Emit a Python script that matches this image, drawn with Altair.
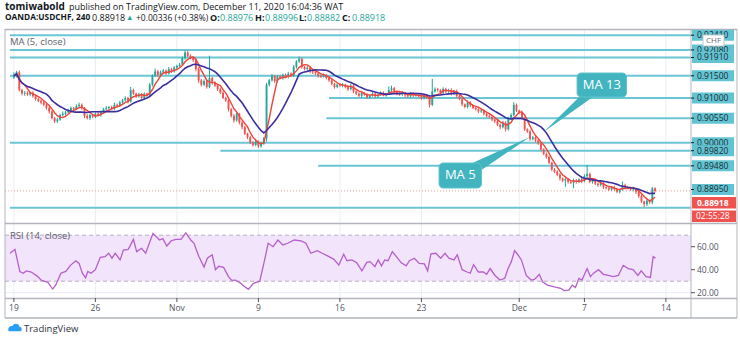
import altair as alt
import pandas as pd

# ---------------- values ----------------
first_open = 9146
close_pips = [
    9150, 9158, 9118, 9110, 9112, 9108, 9112, 9104, 9098, 9094,
    9090, 9085, 9078, 9070, 9055, 9048, 9052, 9062, 9065, 9068,
    9072, 9078, 9075, 9082, 9085, 9078, 9060, 9055, 9062, 9058,
    9065, 9062, 9070, 9075, 9078, 9080, 9076, 9085, 9082, 9090,
    9095, 9100, 9092, 9118, 9110, 9104, 9108, 9100, 9110, 9106,
    9130, 9150, 9160, 9152, 9158, 9162, 9155, 9165, 9160, 9168,
    9172, 9175, 9190, 9202, 9195, 9190, 9185, 9165, 9140, 9130,
    9138, 9125, 9145, 9135, 9128, 9120, 9112, 9100, 9095, 9075,
    9060, 9050, 9065, 9045, 9035, 9020, 9012, 9000, 8995, 9002,
    8992, 8998, 9010, 9130, 9140, 9150, 9138, 9148, 9145, 9152,
    9148, 9155, 9150, 9170, 9182, 9188, 9170, 9165, 9168, 9160,
    9158, 9155, 9150, 9148, 9152, 9145, 9140, 9132, 9125, 9130,
    9128, 9130, 9125, 9120, 9128, 9115, 9110, 9105, 9112, 9108,
    9102, 9106, 9110, 9104, 9108, 9112, 9106, 9110, 9118, 9122,
    9115, 9110, 9108, 9112, 9106, 9104, 9110, 9106, 9108, 9104,
    9100, 9106, 9102, 9085, 9115, 9120, 9118, 9112, 9120, 9115,
    9118, 9110, 9116, 9105, 9098, 9086, 9080, 9090, 9084, 9078,
    9075, 9070, 9072, 9065, 9060, 9058, 9052, 9048, 9040, 9035,
    9045, 9030, 9055, 9062, 9085, 9072, 9068, 9055, 9030, 9025,
    9008, 9012, 9005, 8998, 8985, 8975, 8968, 8955, 8940, 8935,
    8928, 8920, 8915, 8918, 8912, 8910, 8915, 8912, 8918, 8914,
    8925, 8930, 8912, 8915, 8908, 8905, 8910, 8900, 8898, 8895,
    8900, 8896, 8890, 8895, 8905, 8900, 8898, 8895, 8897, 8890,
    8880, 8868, 8862, 8870, 8866, 8897.6, 8891.8,
]
hi_ext = [
    8, 3, 4, 3, 4, 3, 2, 4, 3, 3,
    3, 4, 2, 3, 2, 3, 4, 3, 5, 3,
    4, 3, 2, 4, 5, 3, 2, 4, 3, 2,
    3, 4, 2, 3, 4, 2, 3, 5, 3, 4,
    3, 4, 3, 7, 3, 2, 4, 3, 3, 2,
    4, 3, 6, 3, 4, 3, 2, 5, 3, 4,
    3, 4, 3, 5, 4, 3, 2, 3, 4, 3,
    4, 3, 50, 4, 3, 2, 3, 4, 3, 2,
    3, 4, 3, 2, 4, 3, 2, 3, 4, 5,
    3, 4, 3, 4, 3, 4, 2, 3, 4, 3,
    3, 4, 3, 4, 3, 5, 3, 2, 4, 3,
    3, 2, 4, 3, 3, 2, 4, 3, 2, 3,
    3, 4, 2, 3, 4, 3, 2, 3, 4, 2,
    3, 2, 3, 4, 2, 3, 3, 2, 8, 6,
    3, 2, 4, 3, 2, 3, 3, 2, 4, 3,
    3, 2, 3, 4, 28, 4, 3, 2, 4, 3,
    3, 4, 2, 3, 4, 3, 2, 5, 3, 2,
    3, 2, 4, 3, 2, 3, 4, 2, 3, 3,
    4, 3, 3, 4, 6, 3, 2, 4, 3, 2,
    4, 3, 2, 3, 3, 2, 3, 4, 2, 3,
    3, 4, 2, 3, 3, 2, 4, 3, 2, 3,
    4, 20, 3, 4, 2, 3, 4, 3, 2, 3,
    3, 4, 3, 2, 8, 3, 2, 3, 4, 2,
    3, 4, 2, 3, 2, 3, 2,
]
lo_ext = [
    3, 4, 3, 4, 5, 3, 4, 3, 4, 3,
    4, 3, 4, 5, 3, 4, 4, 3, 3, 4,
    3, 4, 3, 2, 3, 4, 5, 3, 4, 3,
    3, 2, 4, 3, 3, 4, 2, 3, 3, 2,
    4, 3, 4, 2, 3, 4, 3, 2, 3, 3,
    3, 4, 3, 5, 3, 4, 3, 2, 4, 3,
    3, 2, 3, 4, 3, 3, 4, 5, 6, 4,
    3, 4, 3, 5, 3, 4, 3, 2, 4, 5,
    4, 5, 3, 4, 5, 3, 4, 3, 4, 3,
    4, 3, 3, 8, 4, 3, 4, 3, 3, 4,
    3, 4, 3, 3, 4, 3, 4, 3, 3, 4,
    4, 3, 4, 3, 2, 3, 4, 3, 4, 3,
    3, 4, 3, 4, 3, 4, 3, 3, 4, 3,
    4, 3, 3, 4, 3, 3, 2, 3, 3, 4,
    3, 4, 3, 3, 4, 3, 3, 4, 3, 3,
    4, 3, 4, 6, 3, 3, 4, 3, 3, 4,
    3, 4, 3, 4, 3, 4, 3, 3, 4, 3,
    3, 4, 3, 4, 3, 3, 4, 4, 3, 5,
    3, 5, 3, 4, 3, 3, 4, 3, 4, 3,
    4, 3, 4, 3, 4, 3, 4, 3, 4, 3,
    3, 5, 4, 14, 4, 3, 12, 4, 3, 5,
    3, 4, 3, 4, 3, 4, 3, 4, 3, 3,
    3, 4, 3, 4, 3, 4, 3, 3, 4, 5,
    4, 3, 6, 4, 3, 4, 3.6,
]

rsi_bar = [
    -1.4, 0.4, 2.2, 3.4, 4.6, 6.4, 8.8, 10.0, 12.5, 14.3, 15.5, 17.3, 19.1, 20.9,
    22.8, 24.0, 25.2, 26.4, 27.2, 28.4, 30.0, 31.8, 33.6, 34.9, 36.1, 37.3, 39.1,
    40.3, 42.1, 44.0, 45.2, 47.0, 48.5, 51.2, 53.6, 54.8, 56.3, 57.9, 59.7, 61.5,
    63.3, 65.1, 66.3, 68.1, 70.0, 71.2, 73.0, 74.2, 75.4, 77.2, 79.0, 80.2, 81.5,
    83.3, 84.5, 86.3, 88.1, 90.5, 92.3, 93.6, 95.4, 97.2, 99.0, 100.8, 103.2,
    105.7, 107.5, 109.3, 111.7, 113.5, 116.0, 117.8, 119.6, 121.4, 122.6, 124.4,
    126.2, 128.1, 129.9, 131.1, 132.9, 134.1, 135.3, 136.5, 137.7, 139.3, 140.8,
    142.6, 144.4, 145.6, 147.4, 149.2, 151.1, 152.3, 153.5, 155.3, 157.1, 158.7,
    160.1, 162.0, 163.2, 165.0, 166.8, 168.0, 169.2, 171.0, 172.8, 174.0, 175.3,
    177.1, 178.9, 180.7, 181.9, 183.1, 184.3, 185.5, 186.8, 188.6, 190.4, 191.6,
    193.4, 194.6, 196.4, 198.9, 201.3, 202.5, 204.3, 205.5, 206.7, 208.0, 209.1,
    211.0, 212.2, 213.4, 215.2, 217.0, 218.8, 220.6, 222.5, 224.3, 226.1, 227.9,
    229.7, 230.9, 232.7, 234.3, 235.3, 236.2,
]
rsi_val = [
    54.3, 57.7, 38.3, 36.9, 38.9, 38.0, 34.0, 31.0, 29.0, 23.2, 27.0, 37.0, 38.5, 44.0,
    47.8, 45.5, 37.0, 33.0, 38.5, 36.9, 40.0, 50.8, 51.4, 54.3, 50.0, 54.3, 48.5,
    57.0, 57.7, 66.4, 55.7, 58.6, 54.3, 71.6, 65.8, 67.0, 60.6, 65.2, 66.4, 66.4,
    72.0, 65.8, 63.0, 51.4, 42.3, 50.0, 53.0, 40.0, 43.0, 42.0, 34.0, 30.7, 31.0,
    28.6, 26.0, 22.9, 28.0, 30.0, 48.5, 63.0, 60.0, 65.8, 61.5, 63.0, 65.8,
    65.0, 63.0, 54.3, 56.6, 54.3, 51.4, 49.0, 44.0, 53.4, 47.8, 48.5,
    46.0, 39.0, 46.4, 47.0, 42.7, 48.5, 43.3, 48.5, 47.8, 55.7, 51.4,
    46.0, 43.3, 47.8, 50.0, 45.5, 45.0, 39.0, 53.8, 54.3, 50.0, 54.3,
    50.0, 48.5, 53.0, 40.0, 38.0, 37.0, 44.4, 38.0, 38.0, 36.0, 41.0,
    35.0, 31.0, 32.5, 41.0, 47.0, 56.6, 53.0, 48.5, 35.0, 31.0, 31.5,
    36.0, 29.5, 26.6, 25.0, 23.8, 21.8, 22.3, 26.6, 24.6, 32.5, 31.0,
    41.0, 34.0, 37.0, 40.0, 36.0, 35.0, 34.0, 35.0, 43.8, 41.0, 40.0,
    35.0, 39.0, 34.0, 33.3, 51.4, 50.0,
]

level_price = [0.92410, 0.92080, 0.91910, 0.91500, 0.91000, 0.90550, 0.90000, 0.89820, 0.89480, 0.88540]
level_from = [-1.45, -1.45, -1.45, -1.45, 116.0, 115.0, -1.45, 76.0, 112.0, -1.45]
label_price = [0.92410, 0.92080, 0.91910, 0.91500, 0.91000, 0.90550, 0.90000, 0.89820, 0.89480, 0.88950]
label_text = ["0.92410", "0.92080", "0.91910", "0.91500", "0.91000", "0.90550", "0.90000", "0.89820", "0.89480", "0.88950"]
last_price = 0.88918
last_label = "0.88918"
countdown = "02:55:28"

xtick_bar = [0, 30, 60, 90, 120, 150, 186, 210, 240]
xtick_label = ["19", "26", "Nov", "9", "16", "23", "Dec", "7", "14"]
rsi_ticks = [60, 40, 20]
rsi_ticklabels = ["60.00", "40.00", "20.00"]
rsi_band = [30, 70]

# ---------------- styling ----------------
FONT = "Open Sans"
TXT = "#131722"
AX = "#50535e"
GREEN = "#26a69a"
RED = "#ef5350"
MA5C = "#f0433a"
MA13C = "#3b2e9e"
CYAN = "#6ac6d3"
CYANBOX = "#62c4d2"
CALL = "#41b4bf"
RSIC = "#b55fca"
FRAME = "#b2b5be"
GRID = "#e8edf4"

XS = alt.Scale(domain=[-3.268, 265.43], nice=False, zero=False)
PS = alt.Scale(domain=[0.854848, 0.931995], nice=False, zero=False)
RS = alt.Scale(domain=[-24.6, 274.5], nice=False, zero=False)
HALF = 5.5 / 4459.0  # half label-box height in price units


def X(f):
    return alt.X(f, type="quantitative", scale=XS, axis=None)


def YP(f):
    return alt.Y(f, type="quantitative", scale=PS, axis=None)


def YR(f):
    return alt.Y(f, type="quantitative", scale=RS, axis=None)


ONE = pd.DataFrame({"z": [0]})


def T(s, x, y, size=9.5, color=TXT, weight="normal", align="left"):
    return alt.Chart(pd.DataFrame({"t": [s]})).mark_text(
        align=align, baseline="middle", fontSize=size, color=color,
        fontWeight=weight, font=FONT).encode(
        x=alt.value(x), y=alt.value(y), text="t:N")


def R(x1, x2, y1, y2, color, width=1.0):
    return alt.Chart(ONE).mark_rule(color=color, strokeWidth=width).encode(
        x=alt.value(x1), x2=alt.value(x2), y=alt.value(y1), y2=alt.value(y2))


def BOX(x1, x2, y1, y2, color, radius=0, stroke=None):
    kw = dict(color=color, cornerRadius=radius)
    if stroke:
        kw["stroke"] = stroke
        kw["strokeWidth"] = 1
    return alt.Chart(ONE).mark_rect(**kw).encode(
        x=alt.value(x1), x2=alt.value(x2), y=alt.value(y1), y2=alt.value(y2))


# ---------------- tables ----------------
rows = []
prev = first_open
for k, c in enumerate(close_pips):
    o = prev
    rows.append(dict(i=k, o=o / 1e4, c=c / 1e4,
                     h=(max(o, c) + hi_ext[k]) / 1e4,
                     l=(min(o, c) - lo_ext[k]) / 1e4,
                     d="up" if c >= o else "down"))
    prev = c
candles = pd.DataFrame(rows)
rsi = pd.DataFrame({"b": rsi_bar, "v": rsi_val})
levels = pd.DataFrame({"p": level_price, "f": level_from})
xt = pd.DataFrame({"b": xtick_bar, "t": xtick_label})
rt = pd.DataFrame({"v": rsi_ticks, "t": rsi_ticklabels})
band = pd.DataFrame({"lo": [rsi_band[0]], "hi": [rsi_band[1]]})
bandlines = pd.DataFrame({"v": rsi_band})

col = alt.Color("d:N", scale=alt.Scale(domain=["up", "down"], range=[GREEN, RED]), legend=None)

layers = []
# week grid
layers.append(alt.Chart(xt).mark_rule(color=GRID, strokeWidth=1).encode(
    x=X("b"), y=alt.value(30), y2=alt.value(298)))
# RSI grid + band
layers.append(alt.Chart(rt).mark_rule(color=GRID).encode(
    y=YR("v"), x=alt.value(5), x2=alt.value(691)))
layers.append(alt.Chart(band).mark_rect(color="#f1e4fb").encode(
    y=YR("hi"), y2="lo:Q", x=alt.value(5), x2=alt.value(691)))
layers.append(alt.Chart(bandlines).mark_rule(color="#b9aec4", strokeDash=[4, 3]).encode(
    y=YR("v"), x=alt.value(5), x2=alt.value(691)))
# horizontal levels
layers.append(alt.Chart(levels).mark_rule(color=CYAN, strokeWidth=2).encode(
    x=X("f"), x2=alt.value(691), y=YP("p")))
# current price dotted line
layers.append(alt.Chart(pd.DataFrame({"p": [last_price]})).mark_rule(
    color="#f19c9b", strokeDash=[1, 2], strokeWidth=1).encode(
    y=YP("p"), x=alt.value(5), x2=alt.value(691)))
# candles
layers.append(alt.Chart(candles).mark_rule(strokeWidth=1).encode(
    x=X("i"), y=YP("l"), y2="h:Q", color=col))
layers.append(alt.Chart(candles).mark_bar(size=1.9).encode(
    x=X("i"), y=YP("o"), y2="c:Q", color=col))
# moving averages
layers.append(alt.Chart(candles).transform_window(
    ma="mean(c)", frame=[-4, 0], sort=[alt.SortField("i")]).mark_line(
    color=MA5C, strokeWidth=1.4).encode(x=X("i"), y=YP("ma")))
layers.append(alt.Chart(candles).transform_window(
    ma="mean(c)", frame=[-12, 0], sort=[alt.SortField("i")]).mark_line(
    color=MA13C, strokeWidth=1.6).encode(x=X("i"), y=YP("ma")))
# RSI line
layers.append(alt.Chart(rsi).mark_line(color=RSIC, strokeWidth=1.3).encode(
    x=X("b"), y=YR("v")))

# callouts (anchored in bar / price units)
tail13 = pd.DataFrame({"x": [208.1, 213.1, 195.0], "y": [0.91024, 0.91024, 0.90239], "k": [0, 1, 2]})
tail5 = pd.DataFrame({"x": [168.8, 172.1, 189.9], "y": [0.89544, 0.89387, 0.90127], "k": [0, 1, 2]})
for tdf in (tail13, tail5):
    layers.append(alt.Chart(tdf).mark_line(filled=True, color=CALL, strokeWidth=0).encode(
        x=X("x"), y=YP("y"), order="k:Q"))
boxes = pd.DataFrame({"x1": [207.3, 156.5], "x2": [225.5, 172.1],
                      "y1": [0.91562, 0.89544], "y2": [0.91024, 0.88983],
                      "tx": [216.4, 164.3], "ty": [0.91293, 0.89264],
                      "t": ["MA 13", "MA 5"]})
layers.append(alt.Chart(boxes).mark_rect(color=CALL, cornerRadius=4, stroke="#5cc3cc", strokeWidth=1).encode(
    x=X("x1"), x2="x2:Q", y=YP("y1"), y2="y2:Q"))
layers.append(alt.Chart(boxes).mark_text(color="white", fontSize=13, font=FONT, baseline="middle").encode(
    x=X("tx"), y=YP("ty"), text="t:N"))

# frame
layers += [
    R(5, 737, 29.5, 29.5, FRAME, 1.5),
    R(5, 5, 29, 318, FRAME),
    R(737, 737, 29, 318, FRAME),
    R(691, 691, 29, 318, FRAME),
    R(5, 737, 223.5, 223.5, FRAME, 1.5),
    R(5, 737, 298.5, 298.5, FRAME, 1.5),
    R(5, 737, 318, 318, FRAME, 1.5),
]
# x axis
layers.append(alt.Chart(xt).mark_rule(color=AX).encode(x=X("b"), y=alt.value(298), y2=alt.value(302)))
layers.append(alt.Chart(xt).mark_text(fontSize=8.5, font=FONT, color=AX, baseline="middle").encode(
    x=X("b"), y=alt.value(308), text="t:N"))
# RSI axis
layers.append(alt.Chart(rt).mark_rule(color=AX).encode(y=YR("v"), x=alt.value(691), x2=alt.value(695)))
layers.append(alt.Chart(rt).mark_text(fontSize=8.5, font=FONT, color=AX, align="left", baseline="middle").encode(
    y=YR("v"), x=alt.value(697), text="t:N"))
# price labels: each box drawn after the previous label text, so later labels cover earlier ones
for p, t in zip(label_price, label_text):
    one = pd.DataFrame({"p": [p], "t": [t]})
    layers.append(alt.Chart(one).transform_calculate(
        a="datum.p + %f" % HALF, b="datum.p - %f" % HALF).mark_rect(color=CYANBOX).encode(
        y=YP("a"), y2="b:Q", x=alt.value(692), x2=alt.value(734)))
    layers.append(alt.Chart(one).mark_rule(color=TXT).encode(
        y=YP("p"), x=alt.value(691), x2=alt.value(694)))
    layers.append(alt.Chart(one).mark_text(fontSize=8.5, font=FONT, color="#1b2a33", align="left", baseline="middle").encode(
        y=YP("p"), x=alt.value(697), text="t:N"))
layers += [
    BOX(692, 736, 197, 208.5, RED),
    T(last_label, 697, 203, 8.5, "white", "bold"),
    BOX(692, 736, 210.5, 222, RED),
    T(countdown, 696, 216.3, 8.5, "white"),
    BOX(703, 724, 35, 46, "white", 0, "#c6c8ce"),
    T("CHF", 706, 40.5, 8, "#6a6d78"),
]

# legends inside panels
layers += [
    T("MA (5, close)", 10, 42, 9.5, "#5d606b"),
    T("RSI (14, close)", 10, 236, 9.5, "#5d606b"),
]

# header
layers += [
    T("tomiwabold", 5, 7, 10, TXT, "bold"),
    T("published on TradingView.com, December 11, 2020 16:04:36 WAT", 69, 7, 9, TXT),
    T("OANDA:USDCHF, 240", 5, 18, 8.3, TXT, "bold"),
    T("0.88918", 92, 18, 9, TXT),
    T("\u25b2", 126, 18, 7.5, GREEN),
    T("+0.00336 (+0.38%)", 136, 18, 8.5, TXT),
    T("O:", 210, 18, 9, TXT, "bold"),
    T("0.88976", 220, 18, 9, GREEN),
    T("H:", 255, 18, 9, TXT, "bold"),
    T("0.88996", 265, 18, 9, GREEN),
    T("L:", 299, 18, 9, TXT, "bold"),
    T("0.88882", 307, 18, 9, GREEN),
    T("C:", 342, 18, 9, TXT, "bold"),
    T("0.88918", 352, 18, 9, GREEN),
]

# footer logo
logo_path = "M -1 0.5 C -1.2 0.1 -0.9 -0.4 -0.4 -0.3 C -0.2 -0.8 0.6 -0.8 0.7 -0.2 C 1.1 -0.2 1.2 0.4 0.9 0.5 Z"
layers.append(alt.Chart(ONE).mark_point(shape=logo_path, filled=True, color="#2a9df4", size=160, opacity=1).encode(
    x=alt.value(15), y=alt.value(328)))
layers.append(T("TradingView", 24, 329, 9.5, "#2e3440"))

chart = alt.layer(*layers).resolve_scale(y="independent").properties(
    width=740, height=344, padding=0,
    autosize=alt.AutoSizeParams(type="none"), background="white",
).configure_view(stroke=None)

chart.save("out.html", embed_options={"renderer": "svg", "actions": False})
